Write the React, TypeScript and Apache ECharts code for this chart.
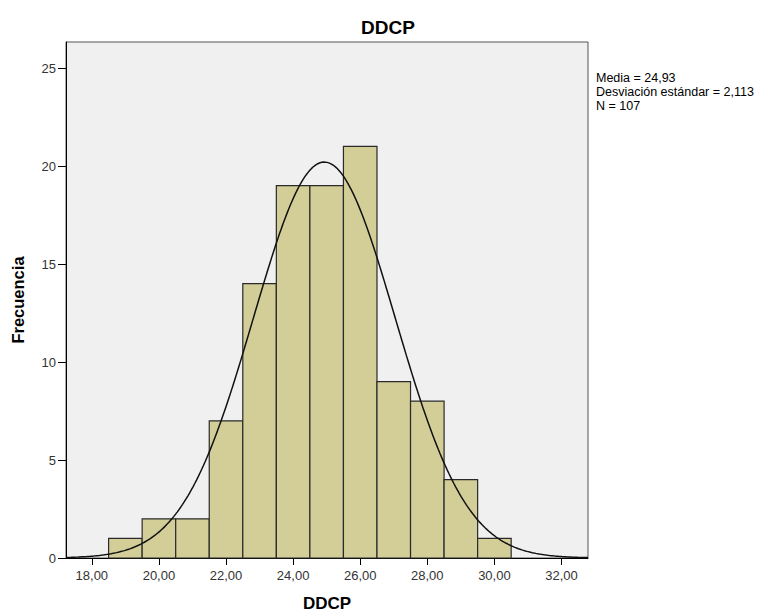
import React, { useEffect, useRef } from "react";
import * as echarts from "echarts";

const binCenters = [19, 20, 21, 22, 23, 24, 25, 26, 27, 28, 29, 30];
const frequencies = [1, 2, 2, 7, 14, 19, 19, 21, 9, 8, 4, 1];
const xTicks = [18, 20, 22, 24, 26, 28, 30, 32];
const yTicks = [0, 5, 10, 15, 20, 25];
const statLines = ["Media = 24,93", "Desviación estándar = 2,113", "N = 107"];
const MEAN = 24.93;
const SD = 2.113;
const N = 107;
const BIN_WIDTH = 1;
const X_MIN = 17.23;
const X_MAX = 32.79;
const Y_MAX = 26.33;

const FONT = "'Liberation Sans', Arial, sans-serif";

function normalCurve(): number[][] {
  const pts: number[][] = [];
  const steps = 300;
  for (let i = 0; i <= steps; i++) {
    const x = X_MIN + ((X_MAX - X_MIN) * i) / steps;
    const z = (x - MEAN) / SD;
    const y = (N * BIN_WIDTH) / (SD * Math.sqrt(2 * Math.PI)) * Math.exp(-0.5 * z * z);
    pts.push([x, y]);
  }
  return pts;
}

export default function App() {
  const ref = useRef<HTMLDivElement>(null);
  useEffect(() => {
    if (!ref.current) return;
    const chart = echarts.init(ref.current, null, { renderer: "svg" });
    const fmt = (v: number) => v.toFixed(2).replace(".", ",");
    chart.setOption({
      animation: false,
      backgroundColor: "#ffffff",
      title: {
        text: "DDCP",
        left: "center",
        top: 13,
        textStyle: { fontFamily: FONT, fontSize: 19, fontWeight: "bold", color: "#000" },
      },
      grid: {
        left: 66,
        top: 42,
        width: 522,
        height: 516,
        outerBoundsMode: "none",
        containLabel: false,
        show: true,
        backgroundColor: "#f0f0f0",
        borderColor: "#555",
        borderWidth: 1,
      },
      xAxis: {
        type: "value",
        min: X_MIN,
        max: X_MAX,
        name: "DDCP",
        nameLocation: "middle",
        nameGap: 37,
        nameTextStyle: { fontFamily: FONT, fontSize: 17, fontWeight: "bold", color: "#000" },
        splitLine: { show: false },
        axisLine: { show: true, lineStyle: { color: "#000", width: 1 } },
        axisTick: { show: true, length: 7, customValues: xTicks, lineStyle: { color: "#000" } },
        axisLabel: {
          customValues: xTicks,
          formatter: (v: number) => fmt(v),
          fontFamily: FONT,
          fontSize: 13,
          color: "#333",
          margin: 11,
        },
      },
      yAxis: {
        type: "value",
        min: 0,
        max: Y_MAX,
        name: "Frecuencia",
        nameLocation: "middle",
        nameGap: 40,
        nameRotate: 90,
        nameTextStyle: { fontFamily: FONT, fontSize: 16.5, fontWeight: "bold", color: "#000" },
        splitLine: { show: false },
        axisLine: { show: true, lineStyle: { color: "#000", width: 1 } },
        axisTick: { show: true, length: 8, customValues: yTicks, lineStyle: { color: "#000" } },
        axisLabel: {
          customValues: yTicks,
          fontFamily: FONT,
          fontSize: 13,
          color: "#333",
          margin: 10,
        },
      },
      series: [
        {
          type: "custom",
          data: binCenters.map((c, i) => [c, frequencies[i]]),
          renderItem: (params: any, api: any) => {
            const c = api.value(0);
            const f = api.value(1);
            const p1 = api.coord([c - BIN_WIDTH / 2, f]);
            const p2 = api.coord([c + BIN_WIDTH / 2, 0]);
            return {
              type: "rect",
              shape: { x: p1[0], y: p1[1], width: p2[0] - p1[0], height: p2[1] - p1[1] },
              style: { fill: "#d3ce98", stroke: "#2a2a2a", lineWidth: 1.2 },
            };
          },
          z: 2,
        },
        {
          type: "line",
          data: normalCurve(),
          showSymbol: false,
          smooth: false,
          lineStyle: { color: "#111", width: 1.5 },
          z: 3,
        },
      ],
      graphic: statLines.map((t, i) => ({
        type: "text",
        left: 596,
        top: 71 + i * 14,
        style: {
          text: t,
          fontFamily: FONT,
          fontSize: 12.5,
          fill: "#000",
        },
      })),
    });
    return () => chart.dispose();
  }, []);
  return (
    <div
      ref={ref}
      style={{ position: "fixed", left: 0, top: 0, width: 776, height: 614 }}
    />
  );
}
